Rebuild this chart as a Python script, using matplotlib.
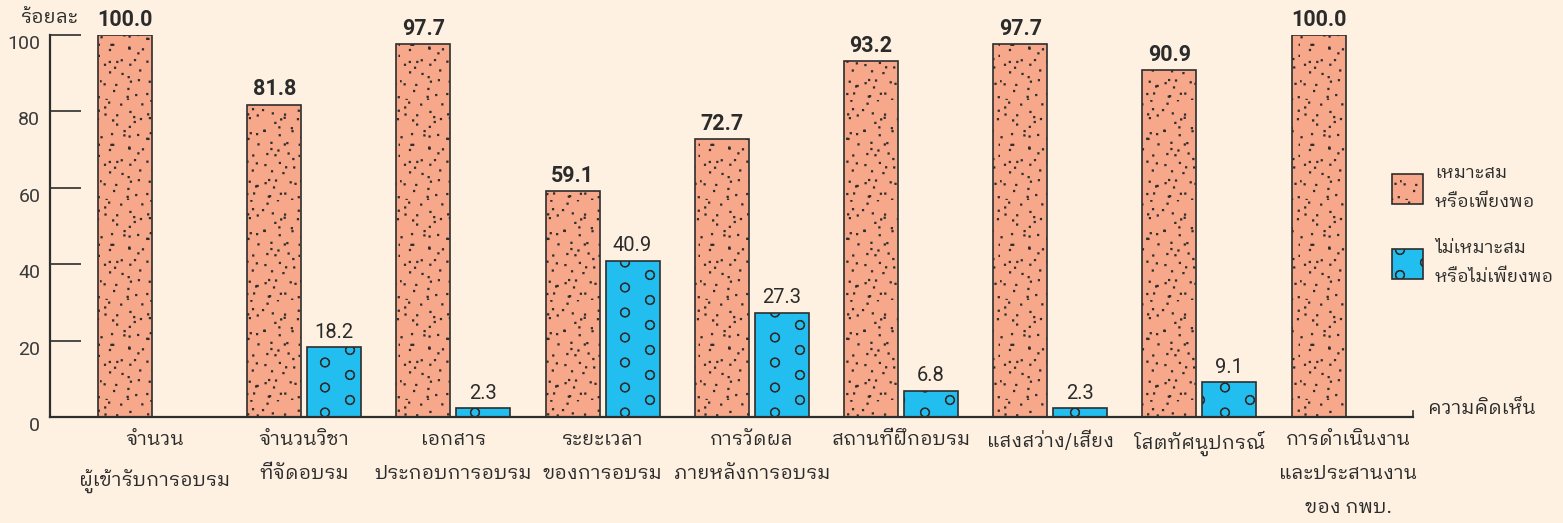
import numpy as np
import matplotlib
matplotlib.use("Agg")
import matplotlib.pyplot as plt
import matplotlib.font_manager as fm
import matplotlib.hatch as mhatch
from matplotlib.path import Path
from matplotlib.patches import Patch
from matplotlib.ft2font import FT2Font

# ---------------- data ----------------
categories = [
    "จำนวน\nผู้เข้ารับการอบรม",
    "จำนวนวิชา\nที่จัดอบรม",
    "เอกสาร\nประกอบการอบรม",
    "ระยะเวลา\nของการอบรม",
    "การวัดผล\nภายหลังการอบรม",
    "สถานที่ฝึกอบรม",
    "แสงสว่าง/เสียง",
    "โสตทัศนูปกรณ์",
    "การดำเนินงาน\nและประสานงาน\nของ กพบ.",
]
suitable = [100.0, 81.8, 97.7, 59.1, 72.7, 93.2, 97.7, 90.9, 100.0]
not_suitable = [0.0, 18.2, 2.3, 40.9, 27.3, 6.8, 2.3, 9.1, 0.0]
series_names = ["เหมาะสม\nหรือเพียงพอ", "ไม่เหมาะสม\nหรือไม่เพียงพอ"]
y_ticks = [0, 20, 40, 60, 80, 100]
y_label = "ร้อยละ"
x_label = "ความคิดเห็น"

# ---------------- fonts ----------------
def find_thai_font():
    best = None
    best_score = -1
    for f in fm.fontManager.ttflist:
        if "CJK" in f.name:
            continue
        try:
            cm = FT2Font(f.fname).get_charmap()
        except Exception:
            continue
        if 0x0E01 in cm and 0x0E33 in cm and 0x0E49 in cm:
            score = 1
            if "Thai" in f.name:
                score += 2
            if "Looped" in f.name:
                score += 2
            if f.weight in (400, "normal", "regular"):
                score += 1
            if score > best_score:
                best, best_score = f.name, score
    return best

thai = find_thai_font()
thai_family = [thai, "DejaVu Sans"] if thai else ["DejaVu Sans"]
num_family = ["Roboto", "DejaVu Sans"]

# ---------------- custom hatch textures (decoration only) ----------------
def _jit(i, k):
    v = np.sin(i * 12.9898 + k * 78.233) * 43758.5453
    return v - np.floor(v) - 0.5

_g = 1.32471795724
_N = 112
STIPPLE = np.array([[(0.5 + i / _g + 0.09 * _jit(i, 1)) % 1.0,
                     (0.5 + i / _g ** 2 + 0.09 * _jit(i, 2)) % 1.0]
                    for i in range(1, _N + 1)])

RINGS = []
for ci in range(5):
    ys = [0.0, 0.25, 0.5, 0.75, 1.0] if ci % 2 == 0 else [0.125, 0.375, 0.625, 0.875]
    for yj in ys:
        RINGS.append([ci * 0.25, yj])
RINGS = np.array(RINGS)


class StippleDots(mhatch.HatchPatternBase):
    def __init__(self, hatch, density):
        self.pts = STIPPLE if "." in hatch else np.zeros((0, 2))
        self.num_vertices = len(self.pts) * 5

    def set_vertices_and_codes(self, vertices, codes):
        s = 0.006
        sq = np.array([[-s, -s], [s, -s], [s, s], [-s, s], [-s, -s]])
        c = [Path.MOVETO, Path.LINETO, Path.LINETO, Path.LINETO, Path.CLOSEPOLY]
        vertices[:] = np.concatenate([sq + p for p in self.pts])
        codes[:] = np.tile(c, len(self.pts))


class Rings(mhatch.HatchPatternBase):
    def __init__(self, hatch, density):
        circ = Path.unit_circle()
        self.cv, self.cc = circ.vertices, circ.codes
        self.centers = RINGS if "o" in hatch else np.zeros((0, 2))
        self.num_vertices = len(self.centers) * len(self.cv) * 2

    def set_vertices_and_codes(self, vertices, codes):
        r = 0.046
        v = np.concatenate([self.cv * r, self.cv[::-1] * r * 0.88])
        c = np.concatenate([self.cc, self.cc])
        vertices[:] = np.concatenate([v + p for p in self.centers])
        codes[:] = np.tile(c, len(self.centers))


mhatch._hatch_types = [StippleDots, Rings]

# ---------------- style ----------------
BG = "#FEF1E1"
ORANGE = "#F7A88A"
BLUE = "#22BEF0"
EDGE = "#2E2E2E"
TXT = "#2B2B2B"
plt.rcParams["hatch.linewidth"] = 0.75

W, H = 1563, 523
fig = plt.figure(figsize=(W / 100, H / 100), dpi=100, facecolor=BG)
ax = fig.add_axes([50 / W, (H - 417) / H, (1413 - 50) / W, (417 - 35) / H])
ax.set_facecolor(BG)

x = np.arange(len(categories))
bw = 0.362
off = 0.201
b1 = ax.bar(x - off, suitable, bw, color=ORANGE, edgecolor=EDGE,
            linewidth=1.2, hatch=".", label=series_names[0], zorder=2)
b2 = ax.bar(x + off, not_suitable, bw, color=BLUE, edgecolor=EDGE,
            linewidth=1.2, hatch="o", label=series_names[1], zorder=2)
for rect, v in zip(b2, not_suitable):
    if v == 0:
        rect.set_visible(False)

ax.bar_label(b1, labels=[f"{v:.1f}" for v in suitable], padding=3,
             fontsize=15.5, fontweight="bold", family=num_family, color=TXT)
ax.bar_label(b2, labels=[f"{v:.1f}" if v > 0 else "" for v in not_suitable],
             padding=4, fontsize=14.5, family=num_family, color=TXT)

ax.set_xlim(-0.704, 8.432)
ax.set_ylim(0, 100)
ax.set_yticks(y_ticks)
ax.set_yticklabels([str(t) for t in y_ticks], family=num_family,
                   fontsize=14, color="#3A3A3A", va="top")
ax.tick_params(axis="y", direction="in", length=22.5, width=1.2,
               color=EDGE, pad=7)
ax.set_xticks(x)
ax.set_xticklabels(categories, family=thai_family, fontsize=14,
                   color=TXT, linespacing=2.15)
ax.tick_params(axis="x", length=0, pad=10)

for s in ("top", "right"):
    ax.spines[s].set_visible(False)
for s in ("left", "bottom"):
    ax.spines[s].set_color(EDGE)
    ax.spines[s].set_linewidth(1.6)
ax.plot([1, 1], [0, 0.016], transform=ax.transAxes, color=EDGE,
        lw=1.2, clip_on=False)

ax.annotate(y_label, xy=(0, 1), xycoords="axes fraction", xytext=(0, 9),
            textcoords="offset points", ha="center", va="baseline",
            family=thai_family, fontsize=14, color=TXT)
ax.annotate(x_label, xy=(1, 0), xycoords="axes fraction", xytext=(11, 2),
            textcoords="offset points", ha="left", va="baseline",
            family=thai_family, fontsize=14, color=TXT)

handles = [Patch(facecolor=ORANGE, edgecolor=EDGE, hatch=".", linewidth=1.2),
           Patch(facecolor=BLUE, edgecolor=EDGE, hatch="o", linewidth=1.2)]
leg = fig.legend(handles, series_names, loc="center left",
                 bbox_to_anchor=(1392 / W, 1 - 225 / H), frameon=False,
                 prop=fm.FontProperties(family=thai_family, size=13),
                 handlelength=1.72, handleheight=2.2, handletextpad=0.65,
                 labelspacing=1.5, labelcolor=TXT, borderpad=0,
                 borderaxespad=0)
for t in leg.get_texts():
    t.set_linespacing(1.85)

fig.savefig("out.png", dpi=100, facecolor=BG)
